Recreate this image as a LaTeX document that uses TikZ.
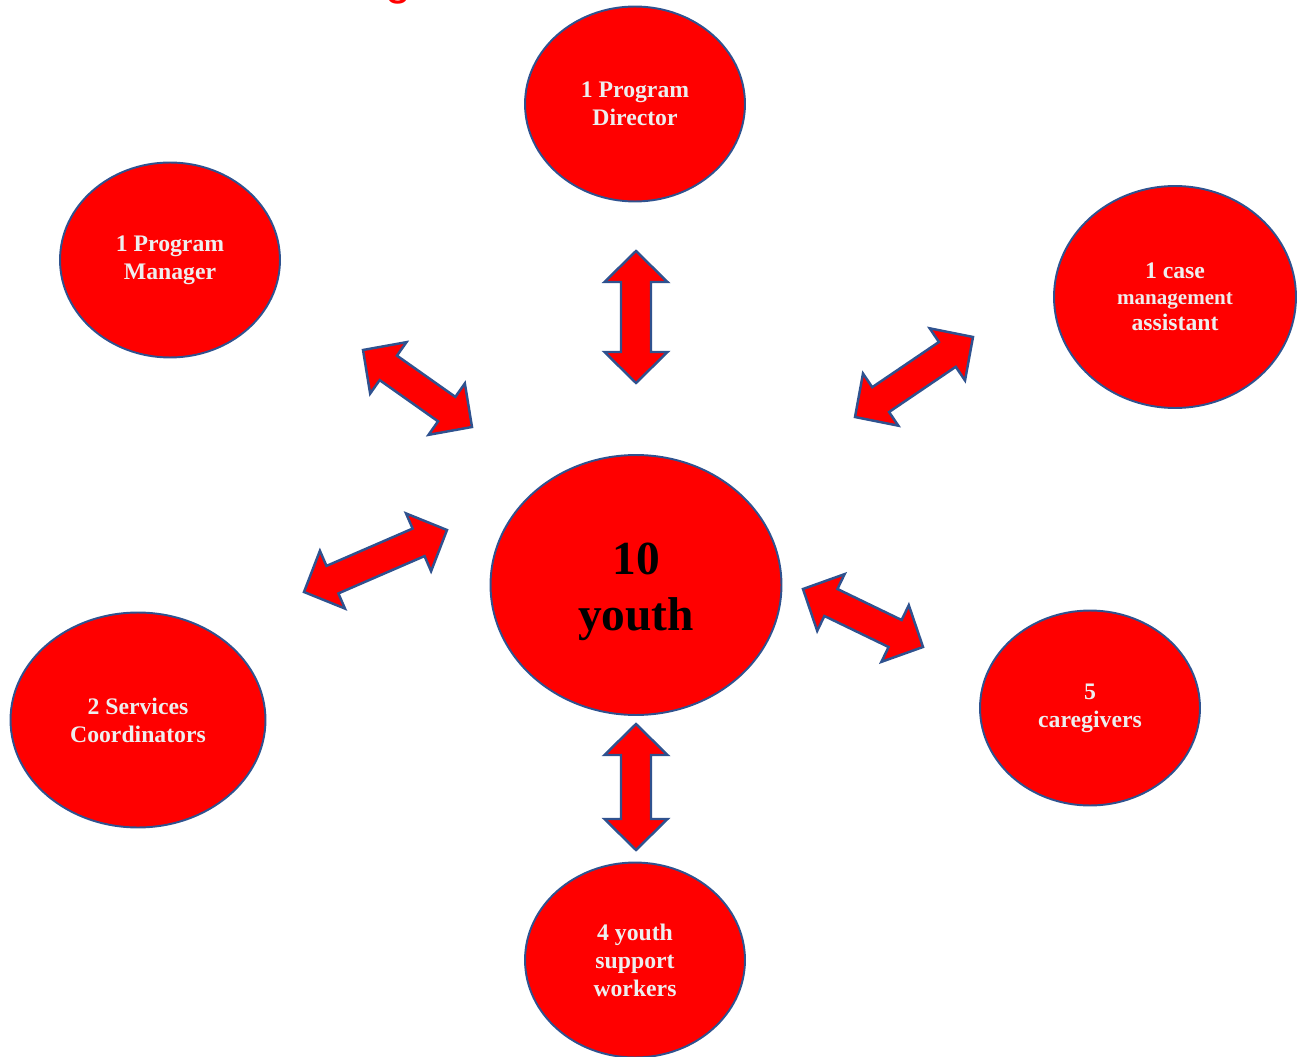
\documentclass[tikz,border=0pt]{standalone}
\usepackage{fontspec}
\setmainfont{Liberation Serif}
\newfontfamily\titlefont{Liberation Sans}
\usetikzlibrary{shapes.geometric,calc}

\definecolor{rimblue}{RGB}{47,82,143}
\definecolor{offwhite}{RGB}{238,238,238}

\tikzset{
  staff/.style={ellipse, draw=rimblue, line width=1.1pt, fill=red, inner sep=0pt,
    text=offwhite, align=center, font=\fontsize{13.5}{15.9}\selectfont\bfseries,
    execute at begin node={\rule{0pt}{12pt}}},
  twoway/.style={draw=rimblue, line width=1.4pt, fill=red, line join=miter},
}

% block arrow with a head at both ends, from tip #1 to tip #2
\newcommand{\linkarrow}[2]{%
  \coordinate (h1) at ($(#1)!6.2mm!(#2)$);
  \coordinate (h2) at ($(#2)!6.2mm!(#1)$);
  \draw[twoway] (#1) -- ($(h1)!6.3mm!90:(#1)$) -- ($(h1)!3mm!90:(#1)$)
    -- ($(h2)!3mm!-90:(#2)$) -- ($(h2)!6.3mm!-90:(#2)$) -- (#2)
    -- ($(h2)!6.3mm!90:(#2)$) -- ($(h2)!3mm!90:(#2)$)
    -- ($(h1)!3mm!-90:(#1)$) -- ($(h1)!6.3mm!-90:(#1)$) -- cycle;
}

\begin{document}
\begin{tikzpicture}[x=0.02cm,y=-0.02cm]
  \useasboundingbox (0,0) rectangle (1298,1057);

  % cut-off title
  \node[anchor=base, text=red, inner sep=0pt, font=\titlefont\fontsize{26.6}{30}\selectfont] (title) at (398,-5) {g};

  \node[staff, minimum width=4.4cm, minimum height=3.9cm] (director) at (635,104) {1 Program\\Director};
  \node[staff, minimum width=4.4cm, minimum height=3.9cm] (manager) at (170,260) {1 Program\\Manager};
  \node[staff, minimum width=4.84cm, minimum height=4.44cm, font=\fontsize{13.5}{14.7}\selectfont\bfseries] (casemgmt) at (1175,297)
    {1 case\\{\fontsize{12}{14.7}\selectfont management}\\assistant};
  \node[staff, minimum width=5.82cm, minimum height=5.2cm, text=black, font=\fontsize{27}{31.7}\selectfont\bfseries] (youth) at (636,585) {\rule{0pt}{26pt}10\\youth};
  \node[staff, minimum width=5.1cm, minimum height=4.3cm] (services) at (138,720) {2 Services\\Coordinators};
  \node[staff, minimum width=4.4cm, minimum height=3.9cm] (caregivers) at (1090,708) {5\\caregivers};
  \node[staff, minimum width=4.4cm, minimum height=3.9cm] (support) at (635,960) {4 youth\\support\\workers};

  % arrow tips
  \coordinate (pd1) at (636,251);  \coordinate (pd2) at (636,383);
  \coordinate (pm1) at (363,350);  \coordinate (pm2) at (472,427);
  \coordinate (pc1) at (973,337);  \coordinate (pc2) at (855,417);
  \coordinate (ps1) at (447,530);  \coordinate (ps2) at (304,592);
  \coordinate (pg1) at (803,589);  \coordinate (pg2) at (923,647);
  \coordinate (pw1) at (636,724);  \coordinate (pw2) at (636,850);

  \foreach \a/\b in {pd1/pd2, pm1/pm2, pc1/pc2, ps1/ps2, pg1/pg2, pw1/pw2} {
    \linkarrow{\a}{\b}
  }
\end{tikzpicture}
\end{document}
